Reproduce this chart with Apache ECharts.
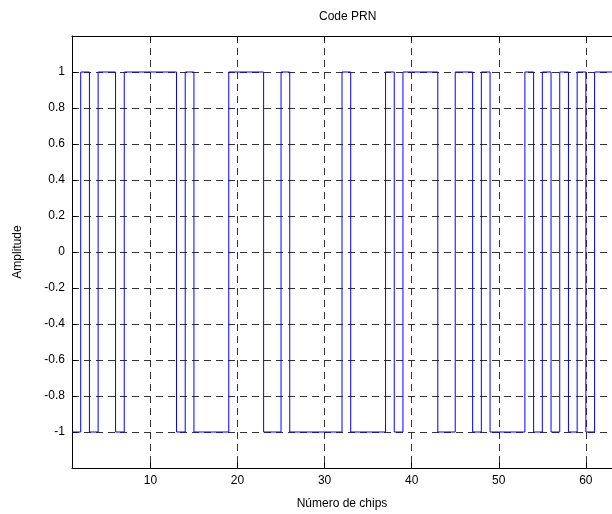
<!DOCTYPE html>
<html lang="fr">
<head>
    <meta charset="UTF-8">
    <title>Code PRN</title>
    <script src="https://cdn.jsdelivr.net/npm/echarts@6/dist/echarts.min.js"></script>
    <style>
        html, body { margin: 0; padding: 0; background: #ffffff; }
        #main { width: 612px; height: 514px; }
    </style>
</head>
<body>
<div id="main"></div>
<script type="text/javascript">
    // valeurs des chips (1..63)
    var chips = [-1, 1, -1, 1, 1, -1, 1, 1, 1, 1, 1, 1, -1, 1, -1, -1, -1, -1, 1, 1, 1, 1,
        -1, -1, 1, -1, -1, -1, -1, -1, -1, 1, -1, -1, -1, -1, 1, -1, 1, 1, 1, 1,
        -1, -1, 1, 1, -1, 1, -1, -1, -1, -1, 1, -1, 1, -1, 1, -1, 1, -1, 1, 1, 1];
    var xTicks = [10, 20, 30, 40, 50, 60];
    var yMin = -1.2, yMax = 1.2, yStep = 0.2;

    // points (numero de chip, amplitude)
    var points = [];
    for (var i = 0; i < chips.length; i++) {
        points.push([i + 1, chips[i]]);
    }

    var myChart = echarts.init(document.getElementById('main'));
    var font = 'Liberation Sans, Arial, sans-serif';
    var dash = { color: '#333', width: 1, type: [7, 5] };

    var option = {
        backgroundColor: '#ffffff',
        animation: false,
        title: {
            text: 'Code PRN',
            left: 314,
            top: 6,
            textStyle: { fontFamily: font, fontSize: 12, fontWeight: 'normal', color: '#000' }
        },
        // pas de recalage automatique du grid (echarts 6)
        grid: { left: 72, right: 0, top: 36, bottom: 46, outerBoundsMode: 'none' },
        xAxis: [
            {
                type: 'value',
                min: 1,
                max: chips.length,
                name: 'Número de chips',
                nameLocation: 'middle',
                nameGap: 30,
                nameTextStyle: { fontFamily: font, fontSize: 12, color: '#000' },
                axisLine: { show: true, onZero: false, lineStyle: { color: '#000', width: 1 } },
                axisTick: { show: true, inside: true, length: 5, customValues: xTicks, lineStyle: { color: '#000' } },
                axisLabel: { customValues: xTicks, margin: 7, fontFamily: font, fontSize: 12, color: '#000' },
                splitLine: { show: true, lineStyle: dash }
            },
            {
                // axe du haut, comme matlab
                type: 'value',
                position: 'top',
                min: 1,
                max: chips.length,
                axisLine: { show: true, onZero: false, lineStyle: { color: '#000', width: 1 } },
                axisTick: { show: true, inside: true, length: 5, customValues: xTicks, lineStyle: { color: '#000' } },
                axisLabel: { show: false },
                splitLine: { show: false }
            }
        ],
        yAxis: {
            type: 'value',
            min: yMin,
            max: yMax,
            interval: yStep,
            name: 'Amplitude',
            nameLocation: 'middle',
            nameGap: 48,
            nameTextStyle: { fontFamily: font, fontSize: 12, color: '#000' },
            axisLine: { show: true, onZero: false, lineStyle: { color: '#000', width: 1 } },
            axisTick: { show: true, inside: true, length: 5, lineStyle: { color: '#000' } },
            axisLabel: {
                margin: 7,
                fontFamily: font,
                fontSize: 12,
                color: '#000',
                formatter: function (v) {
                    if (Math.abs(v) > 1.01) return '';
                    return String(Math.round(v * 10) / 10);
                }
            },
            splitLine: { show: true, lineStyle: dash }
        },
        series: [
            {
                name: 'PRN',
                type: 'line',
                step: 'end',
                data: points,
                symbol: 'none',
                lineStyle: { color: '#0000ff', width: 1 },
                z: 3
            }
        ]
    };

    myChart.setOption(option);
</script>
</body>
</html>
